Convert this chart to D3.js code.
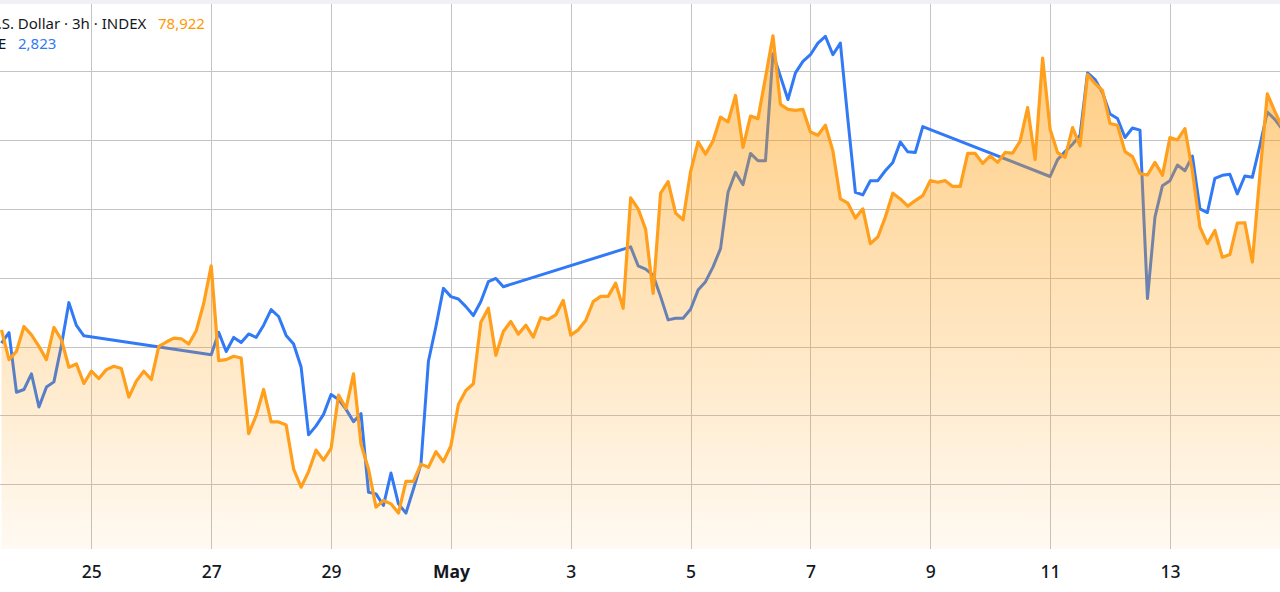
<!DOCTYPE html>
<html>
<head>
<meta charset="utf-8">
<script src="https://cdn.jsdelivr.net/npm/d3@7"></script>
<style>
  html, body { margin: 0; padding: 0; background: #ffffff; }
  svg { display: block; }
</style>
</head>
<body>
<svg id="chart" width="1280" height="592"></svg>
<script>
// ---------- DATA ----------
const startTime = "2020-04-23T12:00:00Z";   // first 3h bar
const barHours = 3;

// orange series (3h bars, continuous)
const orangeValues = [
  324.4,281.1,293.2,329.3,317.2,300.4,281.1,327.9,310.0,270.1,
  274.9,246.4,264.3,253.6,266.6,271.5,268.1,226.7,249.9,264.3,
  252.2,300.4,306.7,312.4,311.4,303.8,323.0,363.0,417.5,279.6,
  281.1,286.0,283.5,173.7,199.7,237.7,190.6,190.6,186.3,122.1,
  95.7,118.4,149.6,135.1,152.0,229.6,210.3,260.4,158.2,122.1,
  66.8,76.4,71.5,58.1,104.3,104.3,129.3,124.6,147.3,132.8,
  155.9,216.0,236.3,246.0,335.6,355.8,287.4,322.1,336.6,318.2,
  331.2,313.9,342.3,339.5,346.1,367.3,316.8,324.4,338.0,365.5,
  373.1,373.1,392.3,355.8,516.2,500.3,470.4,377.5,523.0,539.8,
  494.1,484.4,554.2,597.5,579.8,599.0,633.7,626.5,665.0,589.5,
  635.1,631.4,691.0,751.7,652.0,644.8,643.4,644.8,612.0,607.2,
  621.7,584.5,514.7,508.5,486.9,500.3,449.7,459.4,488.3,523.0,
  514.7,504.2,512.3,519.5,541.2,538.9,541.2,532.8,532.8,580.8,
  580.8,566.3,577.3,567.8,582.2,581.2,598.6,647.3,571.8,719.5,
  615.9,581.9,575.0,618.4,591.8,695.4,682.4,672.3,624.3,621.7,
  583.4,576.2,551.6,549.4,567.8,549.0,603.9,600.4,616.9,555.2,
  473.9,449.7,468.9,429.9,433.8,479.6,480.1,423.0,548.0,667.5,
  641.9,618.8
];

// blue series (same bars, no weekend trading -> null)
const blueValues = [
  305.2,320.4,233.7,237.7,260.4,212.3,241.2,248.8,301.9,364.0,330.8,315.8,
  null,null,null,null,null,null,null,null,null,null,null,null,null,null,null,null,
  288.3,320.7,292.9,313.4,305.9,318.5,313.4,331.2,353.9,343.8,
  316.3,303.8,270.5,171.8,184.8,201.6,230.5,223.3,208.8,191.0,
  202.6,88.4,86.0,69.2,116.3,71.5,58.1,93.2,129.3,278.8,
  329.3,384.7,372.7,369.2,358.2,345.2,365.5,394.4,399.1,387.1,
  null,null,null,null,null,null,null,null,null,null,null,null,null,null,null,null,
  445.0,417.5,412.6,403.9,372.7,338.9,341.3,341.3,354.3,382.2,
  394.4,416.0,442.5,524.4,553.3,535.4,580.8,570.1,570.1,725.7,
  692.5,659.2,697.8,714.6,724.3,741.2,751.0,724.3,741.2,630.4,
  524.4,520.5,541.2,541.2,555.6,567.8,597.5,583.1,582.2,619.8,
  null,null,null,null,null,null,null,null,null,null,null,null,null,null,null,null,
  547.3,571.8,583.4,594.2,607.2,697.8,688.2,668.9,638.0,631.5,
  603.9,617.8,614.7,369.8,488.3,534.0,541.2,563.9,555.6,576.9,
  500.3,494.9,544.7,549.0,550.4,522.0,548.0,546.1,591.8,640.9,
  630.4,615.9
];

const yTickValues = [100, 200, 300, 400, 500, 600, 700];
const xTickDates = ["2020-04-25","2020-04-27","2020-04-29","2020-05-01","2020-05-03",
                    "2020-05-05","2020-05-07","2020-05-09","2020-05-11","2020-05-13"];

const legendTitle = "U.S. Dollar \u00b7 3h \u00b7 INDEX";
const legendValueOrange = "78,922";
const legendTitle2 = "E";
const legendValueBlue = "2,823";

// ---------- LAYOUT ----------
const W = 1280, H = 592;
const plot = { left: 0, right: 1280, top: 0, bottom: 549 };
const ORANGE = "#FF9F1C";
const BLUE = "#3179F5";

const t0 = new Date(startTime).getTime();
const stepMs = barHours * 3600 * 1000;
const orangeData = orangeValues.map((v, i) => ({ t: new Date(t0 + i * stepMs), v }));
const blueData = blueValues.map((v, i) => ({ t: new Date(t0 + i * stepMs), v }))
                           .filter(d => d.v !== null);

const lastT = new Date(t0 + (orangeValues.length - 1) * stepMs);
const x = d3.scaleUtc()
  .domain([new Date(t0), lastT])
  .range([1.5, 1.5 + 7.49 * (orangeValues.length - 1)]);

const y = d3.scaleLinear()
  .domain([5.9, 803.8])
  .range([plot.bottom, plot.top]);

const svg = d3.select("#chart");

const defs = svg.append("defs");
defs.append("clipPath").attr("id", "plotClip")
  .append("rect").attr("x", plot.left).attr("y", plot.top)
  .attr("width", plot.right - plot.left).attr("height", plot.bottom - plot.top);

const grad = defs.append("linearGradient").attr("id", "areaGrad")
  .attr("gradientUnits", "userSpaceOnUse")
  .attr("x1", 0).attr("x2", 0).attr("y1", 20).attr("y2", plot.bottom);
grad.append("stop").attr("offset", "0%").attr("stop-color", "#FF9800").attr("stop-opacity", 0.52);
grad.append("stop").attr("offset", "100%").attr("stop-color", "#FF9800").attr("stop-opacity", 0.05);

// background
svg.append("rect").attr("x", 0).attr("y", 0).attr("width", W).attr("height", H).attr("fill", "#ffffff");

// top border strip
svg.append("rect").attr("x", 0).attr("y", 0).attr("width", W).attr("height", 4).attr("fill", "#f0f1f4");

// gridlines
const grid = svg.append("g").attr("clip-path", "url(#plotClip)");
const xTicks = xTickDates.map(s => new Date(s + "T00:00:00Z"));
grid.selectAll("line.vg").data(xTicks).join("line")
  .attr("class", "vg")
  .attr("x1", d => Math.round(x(d)) + 0.5).attr("x2", d => Math.round(x(d)) + 0.5)
  .attr("y1", 4).attr("y2", plot.bottom)
  .attr("stroke", "#c4c4c4").attr("stroke-width", 1);
grid.selectAll("line.hg").data(yTickValues).join("line")
  .attr("class", "hg")
  .attr("x1", plot.left).attr("x2", plot.right)
  .attr("y1", d => Math.round(y(d)) + 0.5).attr("y2", d => Math.round(y(d)) + 0.5)
  .attr("stroke", "#c4c4c4").attr("stroke-width", 1);

const g = svg.append("g").attr("clip-path", "url(#plotClip)");

// blue line (drawn first so the orange area tints it)
const line = d3.line().x(d => x(d.t)).y(d => y(d.v));
g.append("path").datum(blueData)
  .attr("d", line)
  .attr("fill", "none").attr("stroke", BLUE)
  .attr("stroke-width", 3).attr("stroke-linejoin", "round");

// orange area
const area = d3.area().x(d => x(d.t)).y0(plot.bottom).y1(d => y(d.v));
g.append("path").datum(orangeData)
  .attr("d", area)
  .attr("fill", "url(#areaGrad)");

// orange line
g.append("path").datum(orangeData)
  .attr("d", line)
  .attr("fill", "none").attr("stroke", ORANGE)
  .attr("stroke-width", 3.2).attr("stroke-linejoin", "round");

// x axis labels
const axis = d3.axisBottom(x).tickValues(xTicks).tickSize(0).tickPadding(0)
  .tickFormat(d => d.getUTCDate() === 1 ? d3.utcFormat("%b")(d) : d3.utcFormat("%-d")(d));
const ax = svg.append("g").attr("transform", `translate(0, ${plot.bottom})`).call(axis);
ax.select(".domain").remove();
ax.selectAll("text")
  .attr("y", 29)
  .attr("dy", 0)
  .attr("fill", "#131722")
  .style("font-family", "'Noto Sans', 'DejaVu Sans', sans-serif")
  .style("font-size", "17.5px")
  .style("font-weight", d => d.getUTCDate() === 1 ? 700 : 500);

// legend
const leg = svg.append("g").style("font-family", "'Noto Sans', 'DejaVu Sans', sans-serif").style("font-size", "15px");
leg.append("text").attr("x", -13).attr("y", 29).attr("fill", "#131722").text(legendTitle);
leg.append("text").attr("x", 158).attr("y", 29).attr("fill", "#FF9800").text(legendValueOrange);
leg.append("text").attr("x", -2).attr("y", 49).attr("fill", "#131722").text(legendTitle2);
leg.append("text").attr("x", 18).attr("y", 49).attr("fill", BLUE).text(legendValueBlue);
</script>
</body>
</html>
